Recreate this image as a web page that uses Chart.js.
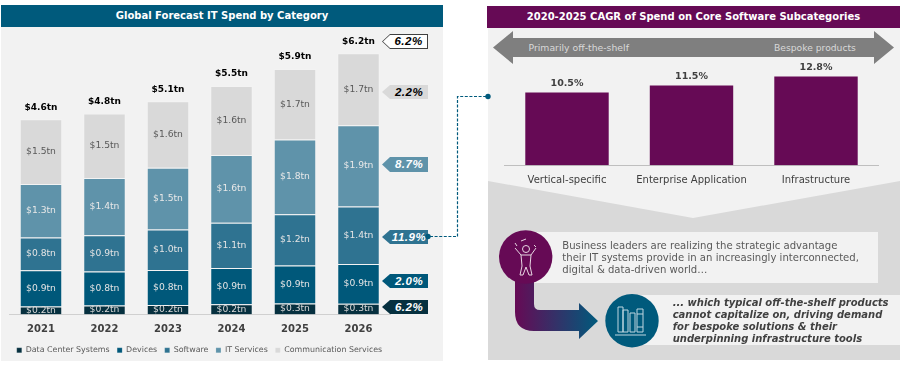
<!DOCTYPE html>
<html><head><meta charset="utf-8">
<script src="https://cdn.jsdelivr.net/npm/chart.js@4"></script>
<style>
html,body{margin:0;padding:0;background:#fff;width:902px;height:367px;overflow:hidden}
body{position:relative;font-family:"DejaVu Sans",sans-serif}
.a{position:absolute}
.hd{color:#fff;font-weight:bold;text-align:center;font-size:10px;line-height:22px}
.tag{position:absolute;left:382px;width:46px;font:italic bold 11.5px "Liberation Sans";letter-spacing:.5px;text-align:center;text-indent:8px;clip-path:polygon(0 50%,8px 0,100% 0,100% 100%,8px 100%)}
canvas{position:absolute}
svg{position:absolute;left:0;top:0}
</style></head><body>
<div class="a hd" style="left:1px;top:5px;width:442px;height:22px;background:#005A7C">Global Forecast IT Spend by Category</div>
<div class="a" style="left:1px;top:27px;width:442px;height:334px;background:#F2F2F2"></div>
<div class="a hd" style="left:487px;top:6px;width:413px;height:22px;background:#660A55">2020-2025 CAGR of Spend on Core Software Subcategories</div>
<div class="a" style="left:488px;top:28px;width:412px;height:332px;background:#F2F2F2"></div>
<div class="a" style="left:488px;top:181px;width:412px;height:179px;background:#D9D9D9;clip-path:polygon(0 0,205px 37px,412px 0,100% 100%,0 100%)"></div>
<div class="a" style="left:493px;top:31px;width:401px;height:33px;background:#7F7F7F;clip-path:polygon(0 50%,20px 0,20px 7px,381px 7px,381px 0,100% 50%,381px 100%,381px 26px,20px 26px,20px 100%)"></div>
<div class="a" style="left:528.5px;top:41px;font-size:9.3px;line-height:13px;color:#D9D9D9">Primarily off-the-shelf</div>
<div class="a" style="left:774px;top:41px;font-size:9.2px;line-height:13px;color:#D9D9D9">Bespoke products</div>
<div class="a" style="left:530px;top:232px;width:348px;height:51px;background:#F2F2F2"></div>
<div class="a" style="left:640px;top:295px;width:260px;height:50px;background:#F2F2F2"></div>

<canvas id="left" class="a" width="443" height="367" style="left:0;top:0;width:443px;height:367px"></canvas>
<canvas id="right" class="a" width="412" height="130" style="left:488px;top:60px;width:412px;height:130px"></canvas>

<svg width="902" height="367" viewBox="0 0 902 367">
<defs><linearGradient id="g" x1="0" x2="1" y1="0" y2="0"><stop offset="0" stop-color="#660A55"/><stop offset="1" stop-color="#005A7C"/></linearGradient></defs>
<path d="M515 275V312Q515 331 534 331H579V339L598 321L579 303V310H540Q534 310 534 304V275Z" fill="url(#g)"/>
<circle cx="525.7" cy="257" r="26.7" fill="#660A55"/>
<circle cx="632" cy="320.7" r="26.7" fill="#005A7C"/>
<g fill="none" stroke="#E6D6E2" stroke-width="1">
<circle cx="526" cy="249" r="3.5"/>
<path d="M521 255H531L530 266L532 275H529L526 267L523 275H520L522 266ZM521 255L515 248M531 255L536 248"/>
<path d="M515 243l2 3M521 241l5-2M534 245l2 2"/>
</g>
<g fill="none" stroke="#BFD6E0" stroke-width="1">
<path d="M618 307h5v25h-5zM623 310h5v22h-5zM630 313h5v19h-5zM637 309h6v23h-6zM615 335h31M637 314h6M637 327h6"/>
</g>
<path d="M430 236.5H457.5V96.5H486" fill="none" stroke="#005A7C" stroke-width="1.2" stroke-dasharray="3 1.6"/>
<circle cx="488" cy="96.5" r="2.7" fill="#005A7C"/>
</svg>

<div class="tag" style="top:34px;height:15px;line-height:15px;background:#404040;color:#000"><div style="position:absolute;left:1px;top:1px;right:1px;bottom:1px;background:#fff;clip-path:polygon(0 50%,7px 0,100% 0,100% 100%,7px 100%);text-indent:7px;line-height:13px">6.2%</div></div>
<div class="tag" style="top:85px;height:14px;line-height:14px;background:#D9D9D9;color:#000">2.2%</div>
<div class="tag" style="top:157px;height:15px;line-height:15px;background:#5F93AA;color:#fff">8.7%</div>
<div class="tag" style="top:230px;height:14px;line-height:14px;background:#2F7391;color:#fff">11.9%</div>
<div class="tag" style="top:274px;height:14px;line-height:14px;background:#00587A;color:#fff">2.0%</div>
<div class="tag" style="top:300px;height:14px;line-height:14px;background:#06303F;color:#fff">6.2%</div>
<svg width="902" height="367" viewBox="0 0 902 367"><circle cx="428" cy="236.5" r="2.7" fill="#005A7C"/></svg>

<div class="a" style="left:562.3px;top:239.5px;font-size:10.1px;line-height:12.2px;color:#595959;white-space:nowrap">Business leaders are realizing the strategic advantage<br>their IT systems provide in an increasingly interconnected,<br>digital &amp; data-driven world…</div>
<div class="a" style="left:672.7px;top:296.5px;font-size:10px;font-weight:bold;font-style:italic;line-height:12.2px;color:#404040;white-space:nowrap">... which typical off-the-shelf products<br>cannot capitalize on, driving demand<br>for bespoke solutions &amp; their<br>underpinning infrastructure tools</div>

<script>
const years = ['2021','2022','2023','2024','2025','2026'];
const dataCenter = [0.185,0.21,0.225,0.24,0.26,0.255];
const devices = [0.86,0.805,0.83,0.86,0.90,0.94];
const software = [0.775,0.86,0.96,1.07,1.215,1.36];
const itServices = [1.27,1.36,1.46,1.61,1.77,1.93];
const commServices = [1.535,1.53,1.58,1.635,1.675,1.706];
const totals = [4.6,4.8,5.1,5.5,5.9,6.2];
const softwareCats = ['Vertical-specific','Enterprise Application','Infrastructure'];
const cagr = [10.5,11.5,12.8];

const FONT='"DejaVu Sans"';
Chart.defaults.animation=false;
Chart.defaults.font.family=FONT;
Chart.defaults.devicePixelRatio=1;

const segLabels={id:'segLabels',afterDatasetsDraw(c){
  const x=c.ctx;x.save();x.textAlign='center';x.textBaseline='middle';x.font='9.2px '+FONT;
  c.data.datasets.forEach((d,i)=>{
    c.getDatasetMeta(i).data.forEach((el,j)=>{
      const mid=(el.y+el.base)/2;
      x.fillStyle=d.labelColor;
      x.fillText('$'+d.data[j].toFixed(1)+'tn',el.x,mid);
    });
  });
  const top=c.getDatasetMeta(c.data.datasets.length-1).data;
  x.font='bold 9px '+FONT;x.fillStyle='#000';
  top.forEach((el,j)=>x.fillText('$'+totals[j].toFixed(1)+'tn',el.x,el.y-12));
  x.restore();
}};

new Chart(document.getElementById('left'),{
  type:'bar',
  data:{labels:years,datasets:[
    {label:'Data Center Systems',data:dataCenter,backgroundColor:'#06303F',labelColor:'#D9D9D9'},
    {label:'Devices',data:devices,backgroundColor:'#00587A',labelColor:'#E4E4E4'},
    {label:'Software',data:software,backgroundColor:'#2F7391',labelColor:'#E4E4E4'},
    {label:'IT Services',data:itServices,backgroundColor:'#5F93AA',labelColor:'#E8E8E8'},
    {label:'Communication Services',data:commServices,backgroundColor:'#D9D9D9',labelColor:'#595959'}
  ].map(d=>Object.assign(d,{stack:'a',barPercentage:.669,categoryPercentage:1,borderWidth:1,borderColor:'rgba(255,255,255,.14)'}))},
  options:{responsive:false,
    layout:{padding:{left:9.25,right:0,top:40.2,bottom:2.7}},
    plugins:{tooltip:{enabled:false},legend:{position:'bottom',align:'start',
      labels:{boxWidth:5,boxHeight:5,padding:7.5,font:{size:7.9},color:'#595959'}}},
    scales:{
      x:{stacked:true,grid:{display:false},border:{color:'#D0D0D0'},
        ticks:{font:{size:10,weight:'bold'},color:'#404040',padding:1,maxRotation:0},
        afterFit(s){s.height=24.5}},
      y:{stacked:true,position:'right',min:0,max:6.5,grid:{display:false},border:{display:false},
        ticks:{display:false},afterFit(s){s.width=52.75}}
    }
  },plugins:[segLabels]
});

const pctLabels={id:'pctLabels',afterDatasetsDraw(c){
  const x=c.ctx;x.save();x.textAlign='center';x.textBaseline='middle';x.font='bold 9.5px '+FONT;x.fillStyle='#404040';
  c.getDatasetMeta(0).data.forEach((el,j)=>x.fillText(cagr[j].toFixed(1)+'%',el.x,el.y-9.5));
  x.restore();
}};
new Chart(document.getElementById('right'),{
  type:'bar',
  data:{labels:softwareCats,datasets:[{data:cagr,backgroundColor:'#660A55',barPercentage:.67,categoryPercentage:1,borderWidth:0}]},
  options:{responsive:false,
    layout:{padding:{left:16.75,right:21.75,top:8.3,bottom:0}},
    plugins:{tooltip:{enabled:false},legend:{display:false}},
    scales:{
      x:{grid:{display:false},border:{color:'#BFBFBF'},
        ticks:{font:{size:10},color:'#404040',padding:1,maxRotation:0},
        afterFit(s){s.height=24.7}},
      y:{display:false,min:0,max:14}
    }
  },plugins:[pctLabels]
});
</script>
</body></html>
